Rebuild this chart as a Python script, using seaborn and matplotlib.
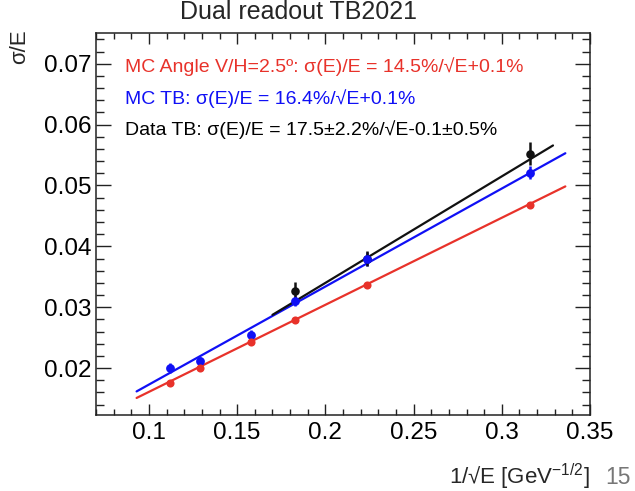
import numpy as np
import pandas as pd
import seaborn as sns
import matplotlib.pyplot as plt
from matplotlib.ticker import MultipleLocator

# beam energies (GeV) -> x = 1/sqrt(E)
energies = [80, 60, 40, 30, 20, 10]
x_pts = [1 / np.sqrt(e) for e in energies]

# MC Angle V/H=2.5
mc_angle_res = [0.0175, 0.0200, 0.0243, 0.0279, 0.0337, 0.0468]
# MC TB
mc_tb_res = [0.0200, 0.0211, 0.0255, 0.0310, 0.0379, 0.0521]
mc_tb_err = [0.0008, 0.0007, 0.0008, 0.0008, 0.0012, 0.0011]
# Data TB (only 30, 20, 10 GeV)
data_x = [1 / np.sqrt(e) for e in [30, 20, 10]]
data_res = [0.0327, 0.0380, 0.0552]
data_err = [0.0015, 0.0013, 0.0019]

# drawn fit curves: slope, offset, x range
fit_mc_angle = (0.143, 0.0018, 0.093, 0.336)
fit_mc_tb = (0.161, 0.0012, 0.093, 0.336)
fit_data = (0.175, -0.001, 0.170, 0.329)

red = '#e8322a'
blue = '#1010f5'
black = '#111111'

sns.set_theme(style='ticks')
plt.rcParams['font.family'] = ['Liberation Sans', 'DejaVu Sans']
plt.rcParams['mathtext.fontset'] = 'custom'
plt.rcParams['mathtext.rm'] = 'Liberation Sans'
plt.rcParams['mathtext.it'] = 'Liberation Sans'

fig = plt.figure(figsize=(6.35, 4.91), dpi=100)
ax = fig.add_axes([0.1512, 0.1548, 0.7780, 0.7774])


def fit_frame(fit):
    a, b, lo, hi = fit
    xs = np.linspace(lo, hi, 50)
    return pd.DataFrame({'x': xs, 'y': a * xs + b})


sns.lineplot(data=fit_frame(fit_mc_angle), x='x', y='y', color=red, lw=1.6, ax=ax)
sns.lineplot(data=fit_frame(fit_mc_tb), x='x', y='y', color=blue, lw=1.6, ax=ax)
sns.lineplot(data=fit_frame(fit_data), x='x', y='y', color=black, lw=1.6, ax=ax)

ax.errorbar(x_pts, mc_tb_res, yerr=mc_tb_err, fmt='none', ecolor=blue, elinewidth=1.8, zorder=3)
ax.errorbar(data_x, data_res, yerr=data_err, fmt='none', ecolor=black, elinewidth=1.8, zorder=3)

sns.scatterplot(x=data_x, y=data_res, color=black, s=38, linewidth=0, zorder=4, ax=ax)
sns.scatterplot(x=x_pts, y=mc_tb_res, color=blue, s=40, linewidth=0, zorder=5, ax=ax)
sns.scatterplot(x=x_pts, y=mc_angle_res, color=red, s=34, linewidth=0, zorder=5, ax=ax)

ax.set_xlim(0.07, 0.35)
ax.set_ylim(0.0123, 0.075)
ax.xaxis.set_minor_locator(MultipleLocator(0.01))
ax.yaxis.set_minor_locator(MultipleLocator(0.002))
ax.set_xticks([0.1, 0.15, 0.2, 0.25, 0.3, 0.35])
ax.set_xticklabels(['0.1', '0.15', '0.2', '0.25', '0.3', '0.35'])
ax.set_yticks([0.02, 0.03, 0.04, 0.05, 0.06, 0.07])
ax.set_yticklabels(['0.02', '0.03', '0.04', '0.05', '0.06', '0.07'])

ax.tick_params(which='both', direction='in', top=True, right=True, colors='#222222',
               labelsize=17.5, labelcolor='black', width=1.0)
ax.tick_params(axis='x', which='major', length=8, pad=5)
ax.tick_params(axis='x', which='minor', length=4)
ax.tick_params(axis='y', which='major', length=11, pad=3)
ax.tick_params(axis='y', which='minor', length=6)
for sp in ax.spines.values():
    sp.set_color('#222222')
    sp.set_linewidth(1.1)
ax.set_xlabel('')
ax.set_ylabel('')

# legend-like captions
ax.text(0.058, 0.9125, 'MC Angle V/H=2.5º: σ(E)/E = 14.5%/√E+0.1%', color=red,
        fontsize=14, transform=ax.transAxes, va='center', ha='left')
ax.text(0.058, 0.8278, 'MC TB: σ(E)/E = 16.4%/√E+0.1%', color=blue,
        fontsize=14, transform=ax.transAxes, va='center', ha='left')
ax.text(0.058, 0.7485, 'Data TB: σ(E)/E = 17.5±2.2%/√E-0.1±0.5%', color='black',
        fontsize=14, transform=ax.transAxes, va='center', ha='left')

fig.text(299 / 635, 1 - 12 / 491, 'Dual readout TB2021', fontsize=18, ha='center', va='center')
fig.text(20 / 635, 1 - 29 / 491, 'σ/E', fontsize=16, rotation=90, ha='center', va='top')
fig.text(590 / 635, 1 - 477 / 491, '1/√E [GeV$^{-1/2}$]', fontsize=16, ha='right', va='center')
fig.text(618 / 635, 1 - 478 / 491, '15', fontsize=16.5, color='#777777', ha='center', va='center')

fig.savefig('out.png', dpi=100)
